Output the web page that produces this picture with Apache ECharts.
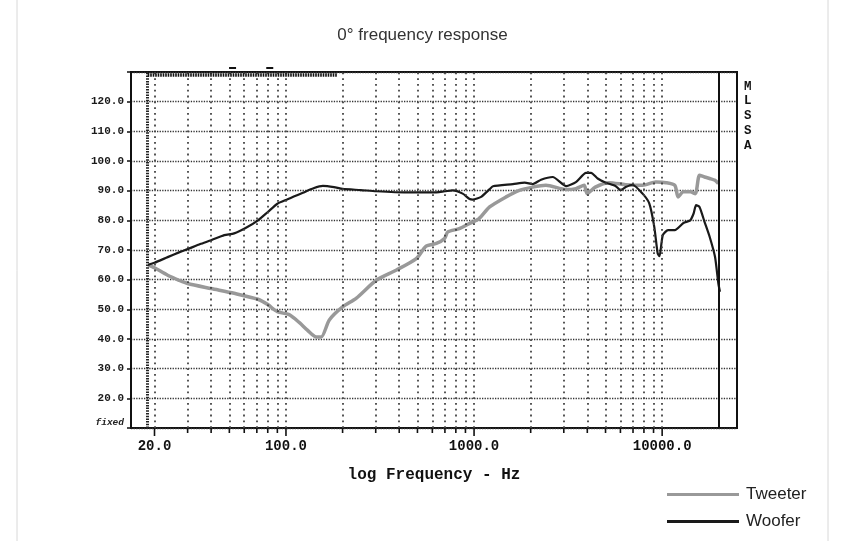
<!DOCTYPE html>
<html>
<head>
<meta charset="utf-8">
<script src="https://cdn.jsdelivr.net/npm/echarts@6/dist/echarts.min.js"></script>
<style>
html,body{margin:0;padding:0;background:#fff;}
#c{width:845px;height:541px;}
</style>
</head>
<body>
<div id="c"></div>
<script>
// ---- data ----
const tweeterFreq = [18.5,20,23.5,27,30,40,53,71,80,90,104,118,130,145,154,170,200,236,302,385,493,556,630,697,725,835,942,1060,1210,1480,1740,2050,2410,3090,3480,3850,3990,4410,5220,6400,7870,9260,10500,11680,12160,12980,14100,15000,15800,16800,17900,19100,19900];
const tweeterDb   = [65,64,61.5,59.8,58.7,57,55.4,53.4,51.6,49.2,48.2,45.5,43,40.7,40.7,46.4,50.8,53.7,59.8,63.2,67.1,71.3,72.2,73.9,76.1,77.2,78.9,80.5,84.5,87.9,90.1,91.2,91.8,90.4,90.7,91.8,89,91.2,92.7,92,91.8,92.9,92.7,91.8,87.9,89.6,89.6,89,95.2,94.6,94.1,93.5,92.4];
const wooferFreq  = [18.5,20,23.5,27,30,35,40,47,53,61,71,80,90,102,110,123,140,157,180,200,250,302,436,604,700,770,870,947,985,1090,1210,1260,1610,1860,2050,2270,2620,3090,3480,3940,4190,4540,5020,5670,6020,6400,6950,7870,8540,9080,9470,9680,10080,10750,11680,12980,14100,14700,15150,15800,16800,17900,19100,19900,20300];
const wooferDb    = [65,65.7,67.6,69.2,70.3,72,73.3,75,75.6,77.4,80,82.8,85.6,87.1,88,89.3,90.8,91.6,91.2,90.6,90.2,89.8,89.4,89.4,89.8,90.1,89,87.2,87,87.9,90.5,91.5,92.2,92.7,92.2,93.7,94.6,91.5,92.9,96,96,94.1,92.7,91.5,90.1,91.2,92,89,85.7,77.8,68.8,67.9,75,76.7,76.7,79.1,80,82.3,85.1,84.5,79.5,74.4,67.7,58.7,55.9];
const gridFreqs   = [20,30,40,50,60,70,80,90,100,200,300,400,500,600,700,800,900,1000,2000,3000,4000,5000,6000,7000,8000,9000,10000];
const xLabelFreqs = [20,100,1000,10000];
const xLabelTexts = ['20.0','100.0','1000.0','10000.0'];
const cursorFreq  = 18.4;
const endFreq     = 20000;
const topBarFreqs = [18.4,188];
const topMarkFreqs = [52,82];

const MONO = '"Liberation Mono","DejaVu Sans Mono",monospace';
const SANS = '"Liberation Sans",Arial,sans-serif';

const tickData = gridFreqs.map(f => {
  const li = xLabelFreqs.indexOf(f);
  return [f, 10, li >= 0 ? 1 : 0, li];
});

const chart = echarts.init(document.getElementById('c'), null, {renderer:'canvas'});
chart.setOption({
  animation: false,
  backgroundColor: '#fff',
  title: [
    {text: '0° frequency response', left: 'center', top: 22,
     textStyle: {fontFamily: SANS, fontSize: 17, fontWeight: 'normal', color: '#333'}},
    {text: 'M\nL\nS\nS\nA', left: 739, top: 74,
     textStyle: {fontFamily: MONO, fontSize: 12.5, fontWeight: 'bold', color: '#111', lineHeight: 14.8}}
  ],
  graphic: [
    {type: 'rect', silent: true, shape: {x: 17, y: -2, width: 811, height: 560},
     style: {fill: 'none', stroke: '#d8d8d8', lineWidth: 1}}
  ],
  legend: {
    data: ['Tweeter', 'Woofer'], orient: 'vertical', left: 662, top: 481,
    icon: 'rect', itemWidth: 72, itemHeight: 3, itemGap: 10,
    textStyle: {fontFamily: SANS, fontSize: 17, color: '#222', padding: [0, 0, 0, 2]}
  },
  grid: {left: 131, right: 108, top: 72, bottom: 113, show: true,
         borderColor: '#111', borderWidth: 2, backgroundColor: 'transparent'},
  xAxis: {
    type: 'log', min: 15, max: 25000, logBase: 10,
    name: 'log Frequency - Hz', nameLocation: 'middle', nameGap: 39,
    nameTextStyle: {fontFamily: MONO, fontSize: 16, fontWeight: 'bold', color: '#111'},
    axisLine: {show: false}, axisTick: {show: false}, axisLabel: {show: false},
    splitLine: {show: false}
  },
  yAxis: {
    type: 'value', min: 10, max: 130, interval: 10,
    axisLine: {show: true, lineStyle: {color: '#111', width: 2}},
    axisTick: {show: true, length: 4, lineStyle: {color: '#111', width: 1.5}},
    axisLabel: {
      margin: 7, fontFamily: MONO, fontSize: 11, fontWeight: 'bold', color: '#1a1a1a',
      formatter: v => v === 10 ? '{f|fixed}' : (v === 130 ? '' : v.toFixed(1)),
      rich: {f: {fontFamily: MONO, fontSize: 9.5, fontWeight: 'bold', fontStyle: 'italic', color: '#222', padding: [0, 0, 10, 0]}}
    },
    splitLine: {show: true, lineStyle: {color: '#333', width: 1.3, type: [1.3, 1.3]}}
  },
  series: [
    {
      name: 'Tweeter', type: 'line', color: '#999', symbol: 'none', smooth: 0.25,
      lineStyle: {width: 3.5, color: '#999'}, z: 3,
      data: tweeterFreq.map((f, i) => [f, tweeterDb[i]]),
      markLine: {
        silent: true, symbol: ['none', 'none'], label: {show: false},
        data: gridFreqs.map(f => ({xAxis: f, lineStyle: {color: '#444', width: 1.8, type: [1.8, 4]}}))
          .concat([
            {xAxis: cursorFreq, lineStyle: {color: '#222', width: 3, type: [1.5, 1.2]}},
            {xAxis: endFreq, lineStyle: {color: '#111', width: 2, type: 'solid'}},
            [{coord: [topBarFreqs[0], 129.2], lineStyle: {color: '#111', width: 3.5, type: [1.6, 0.9]}},
             {coord: [topBarFreqs[1], 129.2]}]
          ])
      }
    },
    {
      name: 'Woofer', type: 'line', color: '#1a1a1a', symbol: 'none', smooth: 0.2,
      lineStyle: {width: 2.2, color: '#1a1a1a'}, z: 4,
      data: wooferFreq.map((f, i) => [f, wooferDb[i]])
    },
    {
      type: 'custom', silent: true, clip: false, z: 5,
      encode: {x: 0, y: 1},
      data: tickData,
      renderItem: (params, api) => {
        const f = api.value(0);
        const major = api.value(2) === 1;
        const li = api.value(3);
        const p = api.coord([f, 10]);
        const children = [{
          type: 'line',
          shape: {x1: p[0], y1: p[1], x2: p[0], y2: p[1] + (major ? 8 : 5)},
          style: {stroke: '#111', lineWidth: 1.6}
        }];
        if (major) {
          children.push({
            type: 'text',
            style: {text: xLabelTexts[li], x: p[0], y: p[1] + 18, align: 'center', verticalAlign: 'middle',
                    font: 'bold 14px ' + MONO, fill: '#111'}
          });
        }
        return {type: 'group', children: children};
      }
    },
    {
      type: 'custom', silent: true, clip: false, z: 5,
      encode: {x: 0, y: 1},
      data: topMarkFreqs.map(f => [f, 130]),
      renderItem: (params, api) => {
        const p = api.coord([api.value(0), api.value(1)]);
        return {type: 'rect', shape: {x: p[0] - 3.5, y: p[1] - 5, width: 7, height: 2},
                style: {fill: '#111'}};
      }
    }
  ]
});
</script>
</body>
</html>
